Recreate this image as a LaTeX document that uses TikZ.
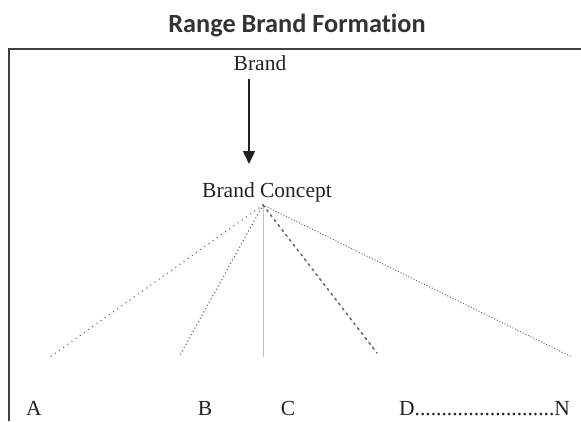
\documentclass[tikz,border=0pt]{standalone}
\usepackage{fontspec}
\setmainfont{Liberation Serif}
\newfontfamily\titlefont[Ligatures=NoCommon]{Carlito}
\usetikzlibrary{arrows.meta}
\definecolor{ink}{HTML}{222222}
\definecolor{titleink}{HTML}{333333}
\tikzset{
  lbl/.style={font=\fontsize{21.5}{24}\selectfont, text=ink, inner sep=0pt, anchor=base},
  branch/.style={draw=black!60, line width=1.5pt, line cap=round},
}
\begin{document}
\begin{tikzpicture}[x=1pt,y=-1pt]
\useasboundingbox (0,0) rectangle (581,421);
\fill[white] (0,0) rectangle (581,421);
% frame (cut off at right and bottom)
\draw[line width=1.6pt, draw=black!75] (581,49) -- (9,49) -- (9,421);
% title
\node[font=\titlefont\bfseries\fontsize{26.3}{30}\selectfont, text=titleink, inner sep=0pt, anchor=base] (title) at (297,32) {Range Brand Formation};
% nodes
\node[lbl] (brand) at (260,70) {Brand};
\node[lbl] (concept) at (267,197) {Brand Concept};
\coordinate (apex) at (263,205);
\coordinate (arrtop) at (249,79);
\coordinate (arrend) at (249,164);
\draw[line width=1.4pt, ink, -{Triangle[width=12pt,length=13pt]}] (arrtop) -- (arrend);
% branch ends
\coordinate (ea) at (50,357);
\coordinate (eb) at (179,357);
\coordinate (ec) at (263,357);
\coordinate (ed) at (377,353);
\coordinate (en) at (572,357);
\draw[branch, dash pattern=on 0.1pt off 5pt] (apex) -- (ea);
\draw[branch, dash pattern=on 0.1pt off 3.6pt] (apex) -- (eb);
\draw[draw=black!25, line width=0.9pt] (apex) -- (ec);
\draw[branch, dash pattern=on 2.2pt off 4pt] (apex) -- (ed);
\draw[branch, line width=1.3pt, dash pattern=on 0.1pt off 2.8pt] (apex) -- (en);
% labels
\node[lbl] (la) at (34,415) {A};
\node[lbl] (lb) at (205,415) {B};
\node[lbl] (lc) at (288,415) {C};
\node[lbl, anchor=base west] (ld) at (399,415) {D..........................N};
\end{tikzpicture}
\end{document}
